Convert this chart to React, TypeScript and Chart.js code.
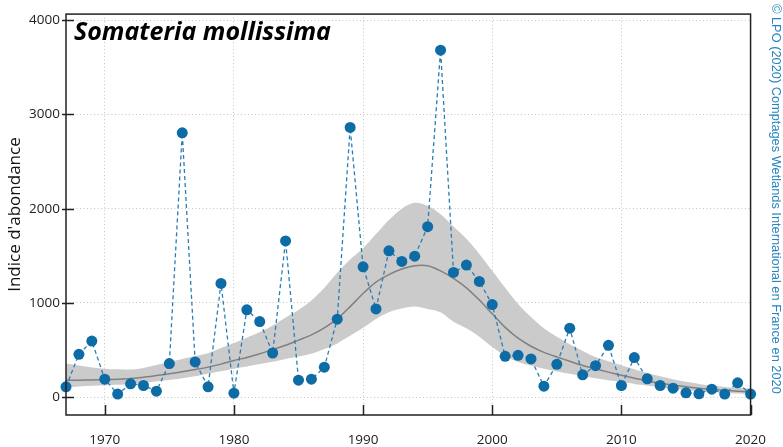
import React, { useEffect, useRef } from "react";
import { Chart, registerables } from "chart.js";

Chart.register(...registerables);

const years = [
  1967, 1968, 1969, 1970, 1971, 1972, 1973, 1974, 1975, 1976,
  1977, 1978, 1979, 1980, 1981, 1982, 1983, 1984, 1985, 1986,
  1987, 1988, 1989, 1990, 1991, 1992, 1993, 1994, 1995, 1996,
  1997, 1998, 1999, 2000, 2001, 2002, 2003, 2004, 2005, 2006,
  2007, 2008, 2009, 2010, 2011, 2012, 2013, 2014, 2015, 2016,
  2017, 2018, 2019, 2020,
];

const observed = [
  109, 454, 595, 190, 32, 141, 123, 63, 356, 2805,
  373, 109, 1207, 42, 926, 802, 468, 1658, 180, 190,
  317, 827, 2862, 1383, 936, 1552, 1440, 1496, 1809, 3682,
  1323, 1401, 1228, 982, 433, 443, 405, 116, 348, 732,
  236, 334, 549, 123, 419, 194, 123, 95, 46, 35,
  84, 32, 151, 32,
];

const trend = [
  180, 180, 182, 185, 190, 197, 210, 228, 247, 268,
  292, 318, 350, 388, 420, 460, 505, 550, 605, 660,
  735, 830, 960, 1100, 1220, 1300, 1360, 1394, 1394, 1340,
  1260, 1160, 1030, 884, 740, 625, 540, 475, 426, 380,
  335, 300, 265, 232, 200, 172, 148, 128, 110, 95,
  82, 72, 63, 56,
];

const upper = [
  356, 335, 315, 302, 295, 292, 310, 340, 375, 405,
  435, 465, 520, 574, 630, 690, 760, 845, 925, 1025,
  1160, 1320, 1460, 1580, 1730, 1880, 2000, 2062, 2030, 1940,
  1810, 1680, 1520, 1341, 1160, 989, 850, 730, 640, 560,
  490, 425, 380, 338, 295, 255, 220, 190, 162, 140,
  122, 108, 98, 92,
];

const lower = [
  102, 112, 120, 127, 132, 137, 150, 168, 182, 200,
  220, 250, 275, 302, 325, 350, 375, 405, 430, 460,
  510, 570, 650, 735, 830, 901, 940, 961, 935, 900,
  800, 730, 640, 531, 440, 373, 335, 300, 272, 247,
  221, 201, 180, 162, 140, 122, 105, 90, 75, 62,
  52, 44, 38, 32,
];

const xTicks = [1970, 1980, 1990, 2000, 2010, 2020];
const yTicks = [0, 1000, 2000, 3000, 4000];
const titleText = "Somateria mollissima";
const yTitleText = "Indice d'abondance";
const creditText = "© LPO (2020) Comptages Wetlands International en France en 2020";

const W = 783;
const H = 447;

const toXY = (vals: number[]) => years.map((yr, i) => ({ x: yr, y: vals[i] }));

const decorPlugin = {
  id: "decor",
  afterDraw(chart: any) {
    const { ctx, chartArea: a, scales } = chart;
    ctx.save();
    // frame
    ctx.strokeStyle = "#222";
    ctx.lineWidth = 1.5;
    ctx.strokeRect(a.left, a.top, a.right - a.left, a.bottom - a.top);
    // x ticks (inward)
    ctx.beginPath();
    xTicks.forEach((v) => {
      const x = Math.round(scales.x.getPixelForValue(v)) + 0.5;
      ctx.moveTo(x, a.bottom);
      ctx.lineTo(x, a.bottom - 10);
    });
    // y ticks (crossing)
    yTicks.forEach((v) => {
      const y = Math.round(scales.y.getPixelForValue(v)) + 0.5;
      ctx.moveTo(a.left - 4, y);
      ctx.lineTo(a.left + 8, y);
    });
    ctx.stroke();

    // title
    ctx.fillStyle = "#000";
    ctx.font = 'italic bold 25px "Open Sans"';
    ctx.textAlign = "left";
    ctx.textBaseline = "alphabetic";
    ctx.fillText(titleText, a.left + 8, a.top + 26);

    // y axis title
    ctx.save();
    ctx.translate(15, (a.top + a.bottom) / 2);
    ctx.rotate(-Math.PI / 2);
    ctx.font = '17px "Open Sans"';
    ctx.fillStyle = "#111";
    ctx.textAlign = "center";
    ctx.textBaseline = "middle";
    ctx.fillText(yTitleText, 0, 0);
    ctx.restore();

    // credit
    ctx.save();
    ctx.translate(776, 4);
    ctx.rotate(Math.PI / 2);
    ctx.font = '12.8px "Liberation Sans"';
    ctx.fillStyle = "#2585bf";
    ctx.textAlign = "left";
    ctx.textBaseline = "middle";
    ctx.fillText(creditText, 0, 0);
    ctx.restore();

    ctx.restore();
  },
};

export default function App() {
  const ref = useRef<HTMLCanvasElement | null>(null);

  useEffect(() => {
    document.body.style.margin = "0";
    const canvas = ref.current;
    if (!canvas) return;
    const chart = new Chart(canvas, {
      type: "line",
      data: {
        datasets: [
          {
            label: "observed",
            data: toXY(observed),
            borderColor: "#2a7db3",
            borderWidth: 1.3,
            borderDash: [4, 3],
            pointRadius: 5.5,
            pointBackgroundColor: "#0d6ba5",
            pointBorderColor: "#0d6ba5",
            pointBorderWidth: 0,
            tension: 0,
            fill: false,
            clip: false,
            order: 0,
          } as any,
          {
            label: "trend",
            data: toXY(trend),
            borderColor: "#808080",
            borderWidth: 1.5,
            pointRadius: 0,
            tension: 0.3,
            fill: false,
            order: 1,
          },
          {
            label: "upper",
            data: toXY(upper),
            borderColor: "rgba(0,0,0,0)",
            borderWidth: 0,
            backgroundColor: "#cbcbcb",
            pointRadius: 0,
            tension: 0.3,
            fill: "+1",
            order: 2,
          },
          {
            label: "lower",
            data: toXY(lower),
            borderColor: "rgba(0,0,0,0)",
            borderWidth: 0,
            pointRadius: 0,
            tension: 0.3,
            fill: false,
            order: 3,
          },
        ],
      },
      options: {
        animation: false,
        responsive: false,
        maintainAspectRatio: false,
        layout: { padding: { left: 0, right: 17, top: 12, bottom: 0 } },
        plugins: {
          legend: { display: false },
          tooltip: { enabled: false },
          title: { display: false },
        },
        scales: {
          x: {
            type: "linear",
            min: 1967,
            max: 2020,
            afterBuildTicks: (scale: any) => {
              scale.ticks = xTicks.map((v) => ({ value: v }));
            },
            afterFit: (scale: any) => {
              scale.height = 32;
            },
            grid: {
              color: "#c4c4c4",
              lineWidth: 1,
              drawTicks: false,
            } as any,
            border: { display: false, dash: [1, 2.5] } as any,
            ticks: {
              padding: 17,
              maxRotation: 0,
              autoSkip: false,
              color: "#222",
              font: { family: "Open Sans", size: 13.5 },
              callback: (v: any) => String(v),
            },
          },
          y: {
            type: "linear",
            min: -190,
            max: 4065,
            afterBuildTicks: (scale: any) => {
              scale.ticks = yTicks.map((v) => ({ value: v }));
            },
            afterFit: (scale: any) => {
              scale.width = 66;
            },
            grid: {
              color: "#c4c4c4",
              lineWidth: 1,
              drawTicks: false,
            } as any,
            border: { display: false, dash: [1, 2.5] } as any,
            ticks: {
              padding: 6,
              autoSkip: false,
              color: "#222",
              font: { family: "Open Sans", size: 13.5 },
              callback: (v: any) => String(v),
            },
          },
        },
      },
      plugins: [decorPlugin],
    });
    return () => chart.destroy();
  }, []);

  return (
    <div style={{ position: "fixed", left: 0, top: 0, width: W, height: H, background: "#fff" }}>
      <canvas ref={ref} width={W} height={H} style={{ width: W, height: H, display: "block" }} />
    </div>
  );
}
